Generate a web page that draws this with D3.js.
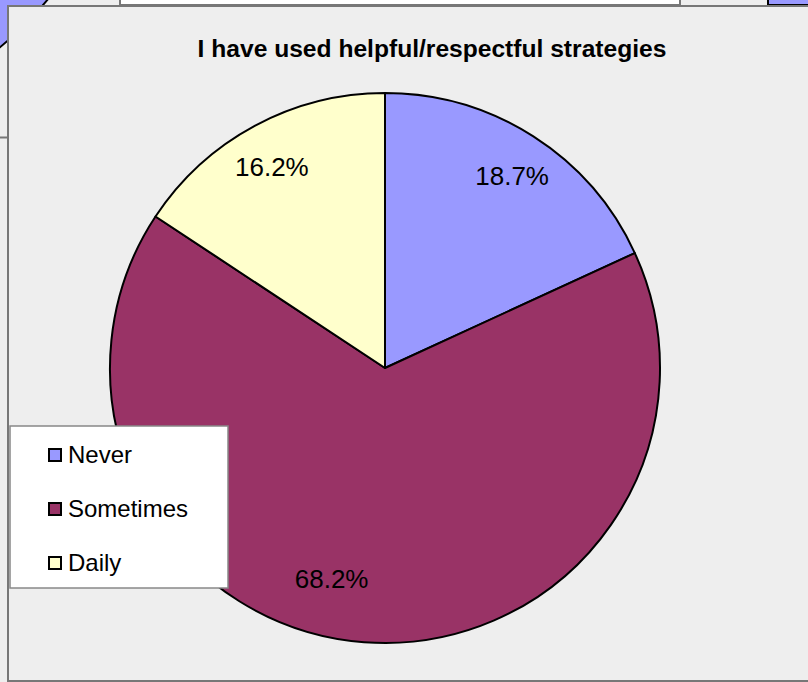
<!DOCTYPE html>
<html lang="en">
<head>
  <script src="https://d3js.org/d3.v7.min.js"></script>
  <style>
    body { margin: 0; background: #eeeeee; overflow: hidden; }
    text { font-family: "Liberation Sans", Arial, sans-serif; }
  </style>
</head>
<body>
  <svg width="808" height="682"></svg>
  <script>
    var categories = ["Never", "Sometimes", "Daily"];
    var values = [18.7, 68.2, 16.2];
    var labels = ["18.7%", "68.2%", "16.2%"];
    var colors = ["#9999ff", "#993366", "#ffffcc"];
    var title = "I have used helpful/respectful strategies";

    var svg = d3.select("svg");

    // bits of the neighbouring charts that show round the edges
    svg.append("rect").attr("x", 120).attr("y", -2).attr("width", 560).attr("height", 7)
      .attr("fill", "#fff").attr("stroke", "#777").attr("stroke-width", 2);
    svg.append("rect").attr("x", 768).attr("y", -2).attr("width", 60).attr("height", 7)
      .attr("fill", "#9999ff").attr("stroke", "#000").attr("stroke-width", 2);
    svg.append("circle").attr("cx", -200).attr("cy", -200).attr("r", 318)
      .attr("fill", "#9999ff").attr("stroke", "#000").attr("stroke-width", 2);
    svg.append("line").attr("x1", 0).attr("x2", 8).attr("y1", 137.5).attr("y2", 137.5)
      .attr("stroke", "#777").attr("stroke-width", 2);

    // chart frame
    svg.append("rect").attr("x", 8).attr("y", 6).attr("width", 830).attr("height", 675)
      .attr("fill", "#eeeeee").attr("stroke", "#777").attr("stroke-width", 2);

    svg.append("text").attr("x", 432).attr("y", 57).attr("text-anchor", "middle")
      .attr("font-size", 24.6).attr("font-weight", "bold")
      .text(title);

    var cx = 385, cy = 368, r = 275;
    var pie = d3.pie().sort(null).value(function (d) { return d; });
    var arc = d3.arc().innerRadius(0).outerRadius(r);
    var labelArc = d3.arc().innerRadius(r * 0.83).outerRadius(r * 0.83);
    var arcs = pie(values);

    var g = svg.append("g").attr("transform", "translate(" + cx + "," + cy + ")");
    g.selectAll("path").data(arcs).enter().append("path")
      .attr("d", arc)
      .attr("fill", function (d, i) { return colors[i]; })
      .attr("stroke", "#000").attr("stroke-width", 2).attr("stroke-linejoin", "round");

    // Excel pulls the labels a little off the centroids
    var nudge = [[4, 0], [-36, -17], [-5, 0]];
    g.selectAll("text.lbl").data(arcs).enter().append("text").attr("class", "lbl")
      .attr("x", function (d, i) { return labelArc.centroid(d)[0] + nudge[i][0]; })
      .attr("y", function (d, i) { return labelArc.centroid(d)[1] + nudge[i][1]; })
      .attr("dy", "0.36em")
      .attr("text-anchor", "middle").attr("font-size", 26)
      .text(function (d, i) { return labels[i]; });

    // legend
    var lg = svg.append("g").attr("transform", "translate(10,426)");
    lg.append("rect").attr("width", 218).attr("height", 162)
      .attr("fill", "#fff").attr("stroke", "#888").attr("stroke-width", 1.5);
    var row = d3.scalePoint().domain(categories).range([29, 137]);
    var item = lg.selectAll("g.item").data(categories).enter().append("g").attr("class", "item")
      .attr("transform", function (d) { return "translate(0," + row(d) + ")"; });
    item.append("rect").attr("x", 39).attr("y", -6).attr("width", 12).attr("height", 12)
      .attr("fill", function (d, i) { return colors[i]; })
      .attr("stroke", "#000").attr("stroke-width", 2);
    item.append("text").attr("x", 58).attr("y", 8).attr("font-size", 24)
      .text(function (d) { return d; });
  </script>
</body>
</html>
